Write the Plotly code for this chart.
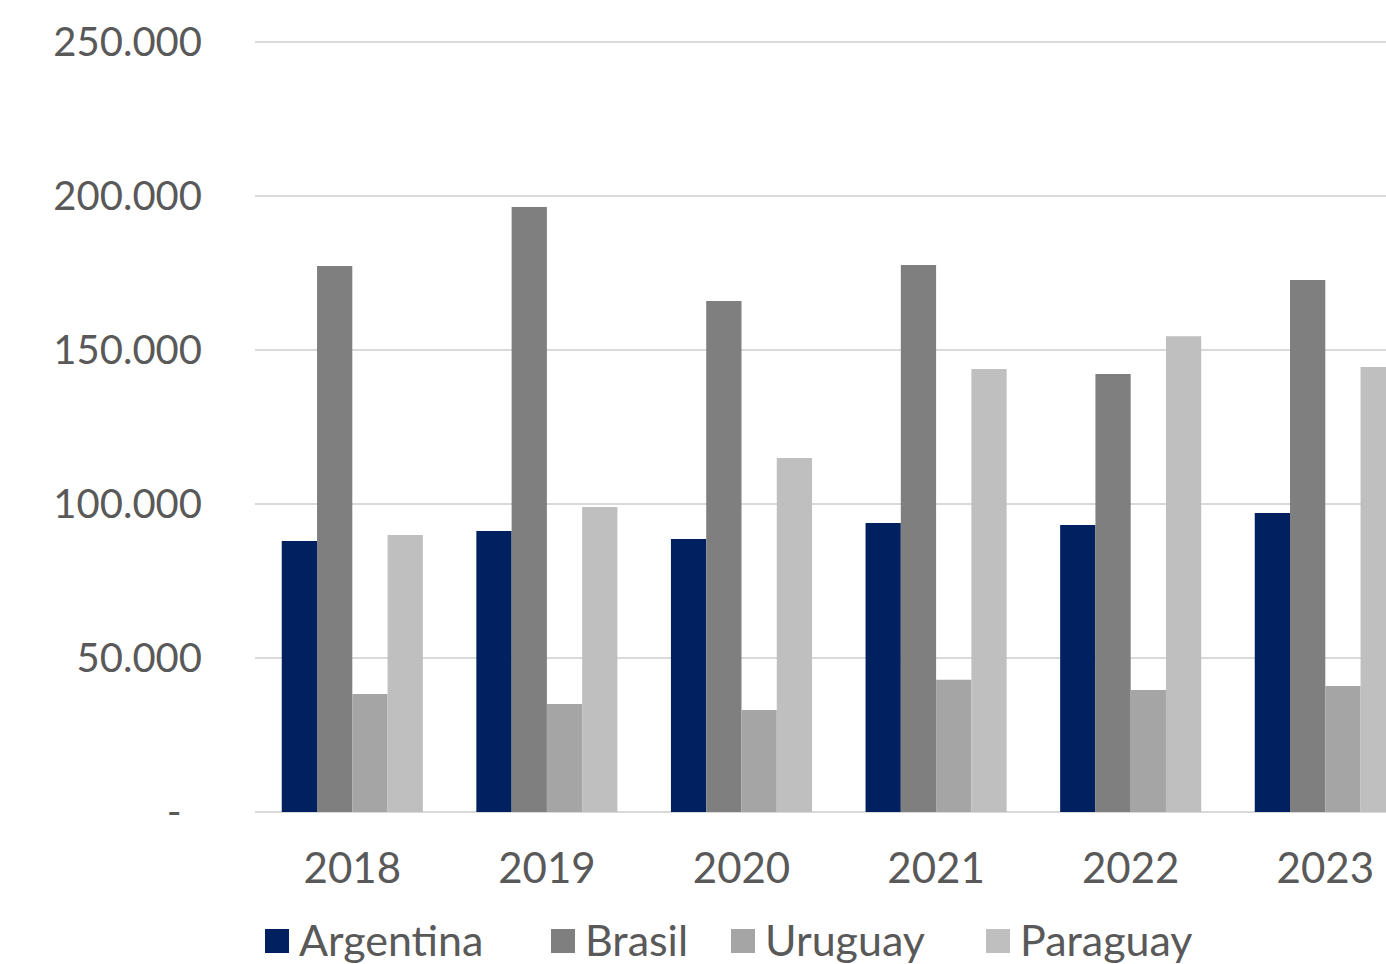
import plotly.graph_objects as go

years = ["2018", "2019", "2020", "2021", "2022", "2023"]
series_names = ["Argentina", "Brasil", "Uruguay", "Paraguay"]
argentina = [88000, 91200, 88600, 93800, 93200, 97100]
brasil = [177300, 196400, 165900, 177600, 142200, 172700]
uruguay = [38300, 35100, 33100, 42900, 39600, 40900]
paraguay = [89900, 99000, 114900, 143800, 154500, 144500]
colors = ["#002060", "#7F7F7F", "#A5A5A5", "#BFBFBF"]
y_tickvals = [0, 50000, 100000, 150000, 200000, 250000]
y_ticktext = ["-\u00a0\u00a0", "50.000", "100.000", "150.000", "200.000", "250.000"]

FONT = "Lato, 'Open Sans', sans-serif"
TXT = "#595959"

fig = go.Figure()
for name, vals, col in zip(series_names, [argentina, brasil, uruguay, paraguay], colors):
    fig.add_trace(go.Bar(x=years, y=vals, name=name, marker=dict(color=col, line=dict(width=0)),
                         showlegend=False))

W, H = 1386, 964
ml, mr, mt, mb = 255, 0, 40, 152
pw, ph = W - ml - mr, H - mt - mb
bottom_px = H - mb  # plot bottom in window coords

# custom legend (large square swatches)
legend_x = [265, 551, 731, 986]
for name, col, lx in zip(series_names, colors, legend_x):
    fig.add_shape(type="rect", xref="paper", yref="paper",
                  x0=(lx - ml) / pw, x1=(lx + 24 - ml) / pw,
                  y0=(bottom_px - 953) / ph, y1=(bottom_px - 929) / ph,
                  fillcolor=col, line=dict(width=0))
    fig.add_annotation(xref="paper", yref="paper", x=(lx + 32 - ml) / pw, y=(bottom_px - 940) / ph,
                       text=name, showarrow=False, xanchor="left", yanchor="middle",
                       font=dict(family=FONT, size=43, color=TXT))

fig.update_layout(
    width=W, height=H,
    margin=dict(l=ml, r=mr, t=mt, b=mb),
    barmode="group", bargap=0.275, bargroupgap=0,
    plot_bgcolor="white", paper_bgcolor="white",
    font=dict(family=FONT, size=42, color=TXT),
    xaxis=dict(type="category", range=[-0.5, 5.312], showgrid=False, showline=False,
               zeroline=False, ticks="", ticklabelstandoff=28,
               tickfont=dict(family=FONT, size=42, color=TXT)),
    yaxis=dict(range=[0, 250650], tickvals=y_tickvals, ticktext=y_ticktext,
               showgrid=True, gridcolor="#D9D9D9", gridwidth=1.5, zeroline=True,
               zerolinecolor="#D9D9D9", zerolinewidth=1.5, showline=False, ticks="",
               ticklabelstandoff=52, tickfont=dict(family=FONT, size=40, color=TXT)),
)

fig.write_html("out.html", config={"displayModeBar": False},
               post_script="document.body.style.margin='0';document.body.style.overflow='hidden';")
